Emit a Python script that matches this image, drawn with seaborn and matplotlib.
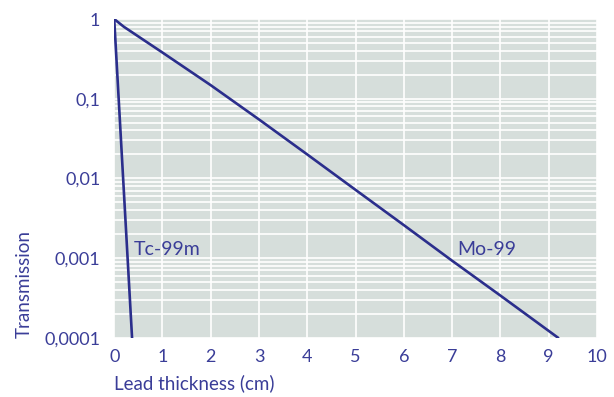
import numpy as np
import pandas as pd
import matplotlib
matplotlib.use("Agg")
import matplotlib.pyplot as plt
import matplotlib.ticker as mticker
import seaborn as sns

# transmission vs lead thickness
mo_thickness = [0, 0.2, 1, 2, 3, 4, 5, 6, 7, 8, 9.2]
mo_transmission = [1, 0.80, 0.380, 0.148, 0.055, 0.020, 0.0072, 0.0026, 0.00093, 0.00034, 0.0001]
tc_thickness = [0, 0.37]
tc_transmission = [1, 0.0001]

y_ticks = [1, 0.1, 0.01, 0.001, 0.0001]
y_labels = ["1", "0,1", "0,01", "0,001", "0,0001"]
x_ticks = list(range(0, 11))

line_col = "#2b2e8c"
text_col = "#3a3d98"
bg_col = "#d6dedb"

sns.set_style("white", {"axes.facecolor": bg_col})
plt.rcParams["font.family"] = ["Lato", "DejaVu Sans"]

df = pd.concat([
    pd.DataFrame({"thickness": mo_thickness, "transmission": mo_transmission, "isotope": "Mo-99"}),
    pd.DataFrame({"thickness": tc_thickness, "transmission": tc_transmission, "isotope": "Tc-99m"}),
])

fig = plt.figure(figsize=(6.14, 3.97), dpi=100)
ax = fig.add_axes([0.186, 0.149, 0.786, 0.803])

sns.lineplot(data=df, x="thickness", y="transmission", units="isotope", estimator=None,
             color=line_col, linewidth=1.9, ax=ax, sort=False)

ax.set_yscale("log")
ax.set_xlim(0, 10)
ax.set_ylim(0.0001, 1)
ax.set_xticks(x_ticks)
ax.set_yticks(y_ticks)
ax.set_yticklabels(y_labels)
ax.yaxis.set_minor_locator(mticker.LogLocator(base=10, subs=np.arange(2, 10)))
ax.yaxis.set_minor_formatter(mticker.NullFormatter())

ax.grid(True, which="major", axis="both", color="white", linewidth=1.2)
ax.grid(True, which="minor", axis="y", color="white", linewidth=1.2)
ax.set_axisbelow(True)
for s in ax.spines.values():
    s.set_visible(False)
ax.tick_params(length=0, labelsize=13, colors=text_col, pad=8)
ax.tick_params(axis="y", pad=10)

ax.set_xlabel("Lead thickness (cm)", fontsize=13.5, color=text_col, loc="left", labelpad=7)
ax.set_ylabel("Transmission", fontsize=13.5, color=text_col, loc="bottom", labelpad=8)

ax.text(0.41, 0.0013, "Tc-99m", fontsize=14, color=text_col, va="center", ha="left")
ax.text(7.1, 0.0013, "Mo-99", fontsize=14, color=text_col, va="center", ha="left")

fig.savefig("out.png", dpi=100)
